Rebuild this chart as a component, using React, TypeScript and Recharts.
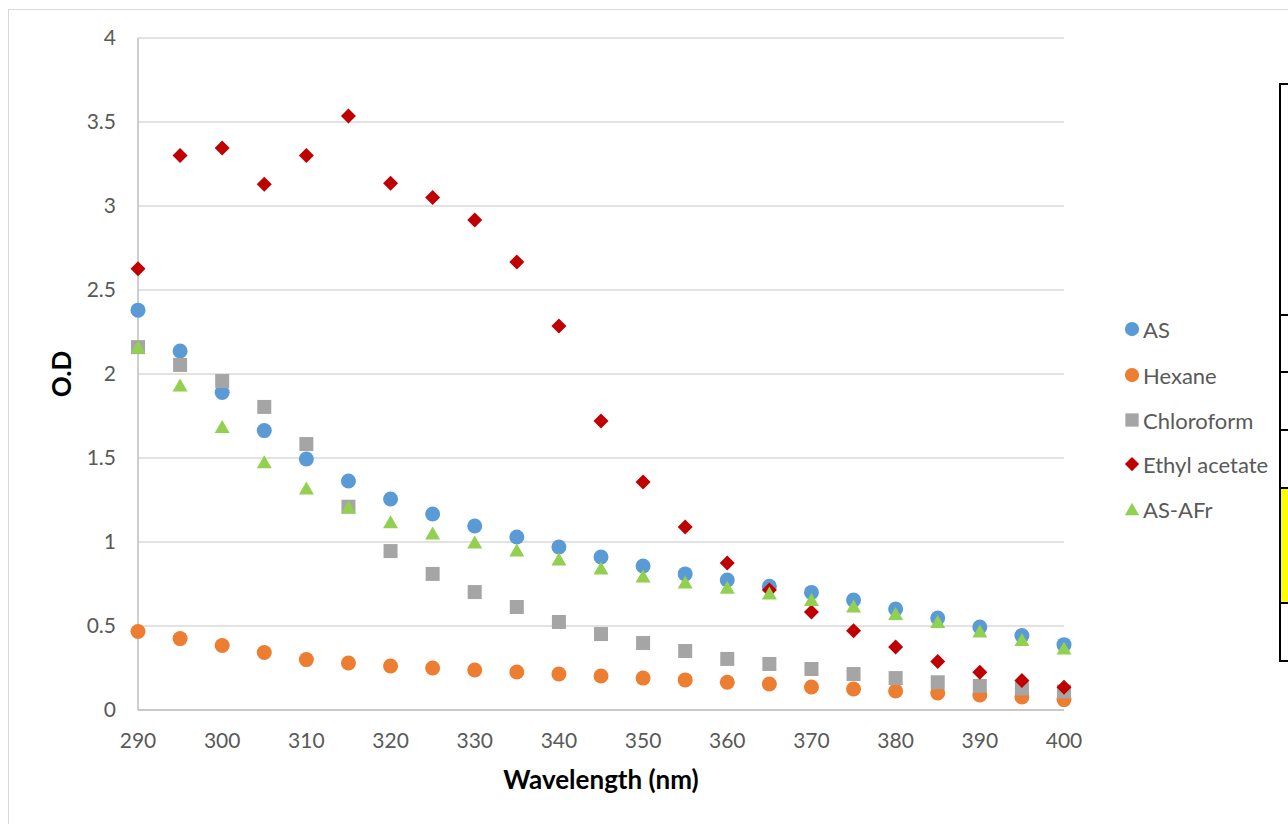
import { ScatterChart, Scatter, XAxis, YAxis, CartesianGrid } from 'recharts';

const FONT = 'Lato, "Open Sans", sans-serif';
const TEXT = '#595959';

const wavelengths = [
  290, 295, 300, 305, 310, 315, 320, 325, 330, 335, 340, 345, 350, 355, 360, 365, 370, 375, 380, 385, 390, 395, 400,
];

const asValues = [
  2.38, 2.137, 1.89, 1.663, 1.494, 1.363, 1.256, 1.167, 1.095, 1.03, 0.97, 0.911, 0.857, 0.81, 0.774, 0.737, 0.7,
  0.655, 0.601, 0.548, 0.494, 0.443, 0.389,
];
const hexaneValues = [
  0.467, 0.425, 0.384, 0.342, 0.3, 0.28, 0.262, 0.25, 0.238, 0.226, 0.214, 0.202, 0.19, 0.179, 0.165, 0.155, 0.137,
  0.125, 0.113, 0.101, 0.089, 0.077, 0.062,
];
const chloroformValues = [
  2.16, 2.054, 1.958, 1.804, 1.583, 1.21, 0.946, 0.81, 0.702, 0.613, 0.524, 0.452, 0.399, 0.351, 0.304, 0.274, 0.244,
  0.214, 0.19, 0.165, 0.143, 0.128, 0.11,
];
const ethylAcetateValues = [
  2.626, 3.3, 3.345, 3.13, 3.3, 3.535, 3.135, 3.05, 2.917, 2.667, 2.286, 1.72, 1.357, 1.089, 0.875, 0.715, 0.583,
  0.472, 0.375, 0.288, 0.224, 0.175, 0.135,
];
const asAfrValues = [
  2.16, 1.935, 1.687, 1.478, 1.321, 1.208, 1.121, 1.054, 1.0, 0.952, 0.899, 0.845, 0.798, 0.762, 0.73, 0.696, 0.658,
  0.619, 0.574, 0.527, 0.47, 0.42, 0.369,
];

const xTicks = [290, 300, 310, 320, 330, 340, 350, 360, 370, 380, 390, 400];
const yTicks = [0, 0.5, 1, 1.5, 2, 2.5, 3, 3.5, 4];

type Kind = 'circle' | 'square' | 'diamond' | 'triangle';

const series: { name: string; values: number[]; color: string; kind: Kind }[] = [
  { name: 'AS', values: asValues, color: '#5B9BD5', kind: 'circle' },
  { name: 'Hexane', values: hexaneValues, color: '#ED7D31', kind: 'circle' },
  { name: 'Chloroform', values: chloroformValues, color: '#A5A5A5', kind: 'square' },
  { name: 'Ethyl acetate', values: ethylAcetateValues, color: '#C00000', kind: 'diamond' },
  { name: 'AS-AFr', values: asAfrValues, color: '#92D050', kind: 'triangle' },
];

const toPoints = (values: number[]) => wavelengths.map((w, i) => ({ x: w, y: values[i] }));

function Marker({ kind, cx, cy, color, s = 1 }: { kind: Kind; cx: number; cy: number; color: string; s?: number }) {
  if (kind === 'circle') return <circle cx={cx} cy={cy} r={7.5 * s} fill={color} />;
  if (kind === 'square') return <rect x={cx - 7 * s} y={cy - 7 * s} width={14 * s} height={14 * s} fill={color} />;
  if (kind === 'diamond') {
    const d = 7.5 * s;
    return <polygon points={`${cx},${cy - d} ${cx + d},${cy} ${cx},${cy + d} ${cx - d},${cy}`} fill={color} />;
  }
  const w = 7.5 * s;
  const h = 6.5 * s;
  return <polygon points={`${cx},${cy - h} ${cx + w},${cy + h} ${cx - w},${cy + h}`} fill={color} />;
}

const legendRows = [329, 375, 420, 464, 509];

export default function App() {
  return (
    <div style={{ position: 'fixed', left: 0, top: 0, width: 1288, height: 824, overflow: 'hidden', background: '#fff' }}>
      <div
        style={{
          position: 'absolute',
          left: 8,
          top: 9,
          width: 1400,
          height: 1000,
          borderLeft: '1px solid #d9d9d9',
          borderTop: '1px solid #d9d9d9',
        }}
      />
      <div style={{ position: 'absolute', left: 0, top: 0 }}>
        <ScatterChart width={1288} height={824} margin={{ top: 38, right: 224, bottom: 0, left: 0 }}>
          <CartesianGrid horizontal vertical={false} stroke="#d9d9d9" strokeWidth={1.3} />
          <XAxis
            type="number"
            dataKey="x"
            domain={[290, 400]}
            ticks={xTicks}
            height={114}
            tickSize={0}
            tickMargin={23}
            axisLine={{ stroke: '#bfbfbf', strokeWidth: 1.5 }}
            tick={{ fill: TEXT, fontSize: 21, fontFamily: FONT }}
            label={{
              value: 'Wavelength (nm)',
              position: 'insideBottom',
              offset: 35,
              style: { fill: '#000', fontSize: 26, fontWeight: 700, fontFamily: FONT },
            }}
          />
          <YAxis
            type="number"
            dataKey="y"
            domain={[0, 4]}
            ticks={yTicks}
            width={138}
            tickSize={0}
            tickMargin={22}
            axisLine={{ stroke: '#bfbfbf', strokeWidth: 1.5 }}
            tick={{ fill: TEXT, fontSize: 21, fontFamily: FONT }}
            label={{
              value: 'O.D',
              angle: -90,
              position: 'insideLeft',
              offset: 62,
              style: { fill: '#000', fontSize: 26, fontWeight: 700, fontFamily: FONT, textAnchor: 'middle' },
            }}
          />
          {series.map((sr) => (
            <Scatter
              key={sr.name}
              name={sr.name}
              data={toPoints(sr.values)}
              isAnimationActive={false}
              shape={(p: any) => <Marker kind={sr.kind} cx={p.cx} cy={p.cy} color={sr.color} />}
            />
          ))}
        </ScatterChart>
      </div>
      {series.map((sr, i) => (
        <div
          key={sr.name}
          style={{
            position: 'absolute',
            left: 1124,
            top: legendRows[i] - 15,
            height: 30,
            display: 'flex',
            alignItems: 'center',
            fontFamily: FONT,
            fontSize: 22,
            color: TEXT,
            whiteSpace: 'nowrap',
          }}
        >
          <svg width={17} height={30} style={{ marginRight: 2 }}>
            <Marker kind={sr.kind} cx={8} cy={15} color={sr.color} s={0.95} />
          </svg>
          {sr.name}
        </div>
      ))}
      {/* cropped table border at the right edge */}
      <div style={{ position: 'absolute', left: 1281, top: 489, width: 7, height: 113, background: '#ffff00' }} />
      <div style={{ position: 'absolute', left: 1279, top: 83, width: 2, height: 579, background: '#000' }} />
      {[83, 314, 371, 429, 487, 602, 660].map((y) => (
        <div key={y} style={{ position: 'absolute', left: 1279, top: y, width: 9, height: 2, background: '#000' }} />
      ))}
    </div>
  );
}
